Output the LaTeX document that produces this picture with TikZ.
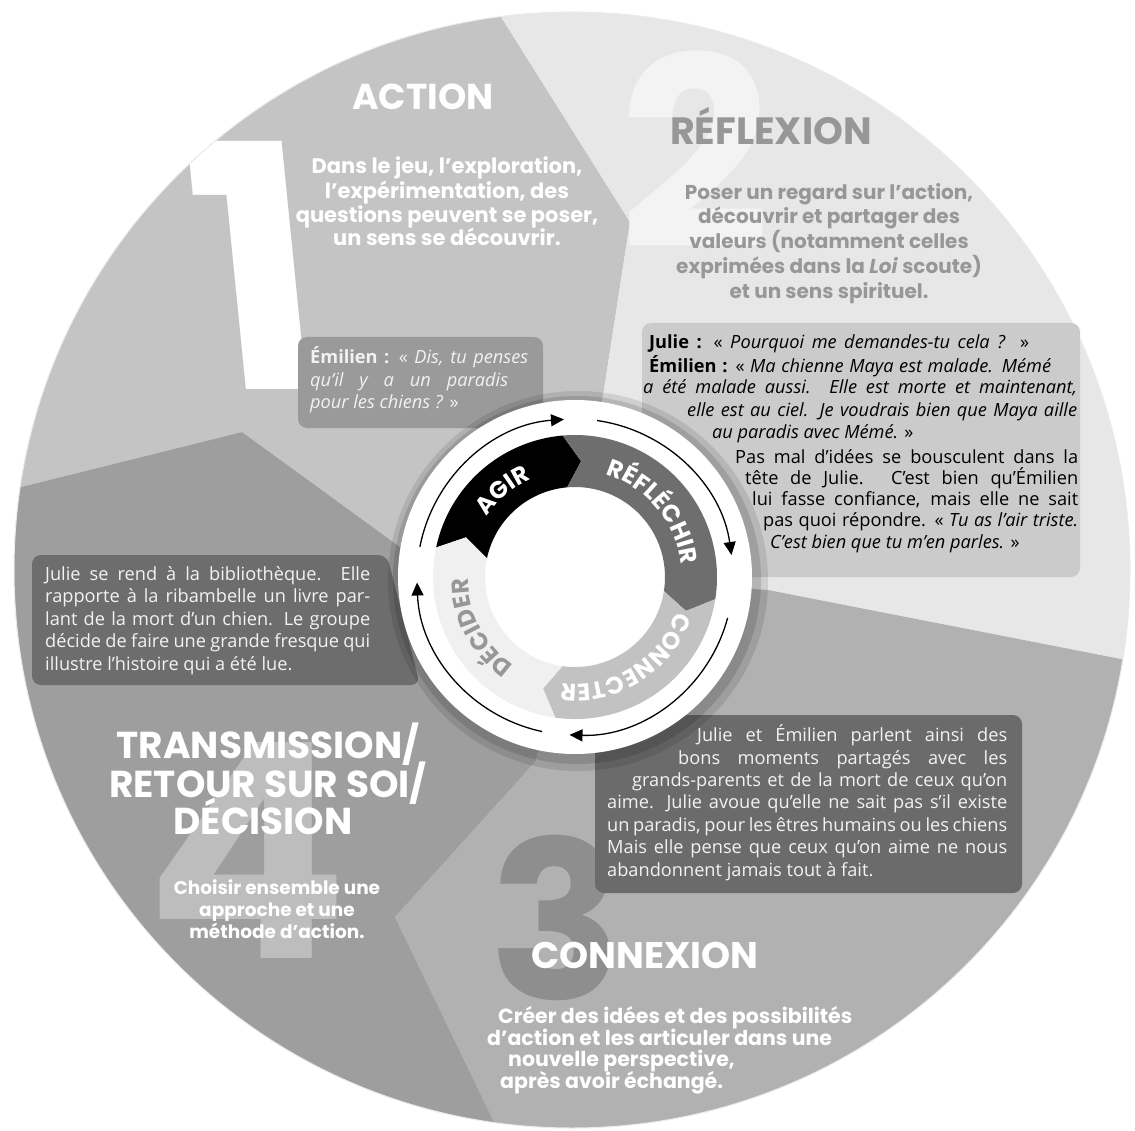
\documentclass[tikz,border=0pt]{standalone}
\usepackage{fontspec}
\usetikzlibrary{arrows.meta,decorations.text,calc}
\newfontfamily\headfont{Poppins}
\newfontfamily\bodyfont{Open Sans}
\definecolor{secA}{HTML}{C4C4C4}
\definecolor{secB}{HTML}{E7E7E7}
\definecolor{secC}{HTML}{B1B1B1}
\definecolor{secD}{HTML}{9E9E9E}
\definecolor{boxA}{HTML}{9A9A9A}
\definecolor{boxB}{HTML}{CBCBCB}
\definecolor{boxD}{HTML}{6D6D6D}
\definecolor{boxC}{HTML}{6B6B6B}
\definecolor{lighttxt}{HTML}{F2F2F2}
\definecolor{reftxt}{HTML}{979797}
\definecolor{bandR}{HTML}{6E6E6E}
\definecolor{bandC}{HTML}{C2C2C2}
\definecolor{bandD}{HTML}{F0F0F0}
\definecolor{numtwo}{HTML}{F3F3F3}
\definecolor{numthree}{HTML}{8E8E8E}
\definecolor{numfour}{HTML}{BDBDBD}
\newcommand{\spreadline}[2]{\makebox[#1pt][s]{#2}}
\begin{document}
\begin{tikzpicture}[x=1pt,y=1pt,
  hd/.style={font=\headfont\bfseries\fontsize{36}{36}\selectfont, text=white, inner sep=0pt, anchor=base},
  dsc/.style={font=\headfont\bfseries\fontsize{#1}{22}\selectfont, text=white, inner sep=0pt, anchor=base},
  dsc/.default=19.5,
  bx/.style={font=\bodyfont\fontsize{18.2}{20}\selectfont, inner sep=0pt, anchor=base west},
  bignum/.style={font=\headfont\bfseries\fontsize{#1}{#1}\selectfont, inner sep=0pt},
  ringarrow/.style={line width=1.3pt, -{Triangle[length=13pt,width=12pt]}},
  bandlabel/.style={decorate, decoration={text along path, text align=center, text={#1}}},
  speech/.style={rounded corners=9pt}
]
\useasboundingbox (0,0) rectangle (1135,-1131);
\fill[white] (0,0) rectangle (1135,-1131);

% ---------- sectors ----------
\begin{scope}
\clip (572,-570) circle (558);
\fill[secA] (575,-577) -- (400,-547) -- (242,-432) -- (17,-488) -- (-100,-517) -- (-100,60) -- (459,50) -- (630,-222) -- cycle;
\fill[secB] (575,-577) -- (630,-222) -- (459,50) -- (1300,60) -- (1300,-694) -- (768,-590) -- cycle;
\fill[secC] (575,-577) -- (768,-590) -- (1300,-694) -- (1300,-1250) -- (556,-1250) -- (395,-917) -- (536,-761) -- cycle;
\fill[secD] (575,-577) -- (536,-761) -- (395,-917) -- (556,-1250) -- (-100,-1250) -- (-100,-517) -- (17,-488) -- (242,-432) -- (400,-547) -- cycle;
% big numbers
\node[bignum=340, text=white, xslant=-0.1] (numA) at (255,-265) {1};
\node[bignum=265, text=numtwo] (numB) at (695,-150) {2};
\node[bignum=220, text=numthree] (numC) at (556,-918) {3};
\node[bignum=300, text=numfour] (numD) at (247,-850) {4};
\end{scope}
\draw[black!8, line width=1pt] (572,-570) circle (558);

% ---------- speech boxes ----------
\fill[boxA, speech] (298,-337) rectangle (543,-428);
\fill[boxB, speech] (642,-323) rectangle (1080,-577);
\fill[boxD, speech] (32,-555) -- (387,-555) -- (420,-685) -- (32,-685) -- cycle;
\fill[boxC, speech] (595,-715) rectangle (1022,-893);

% ---------- central ring ----------
\begin{scope}[shift={(575,-577)}]
\fill[black, opacity=0.10] (3,-4) circle (190);
\fill[black, opacity=0.12] (2,-3) circle (184);
\fill[white] (0,0) circle (177);
\fill[black] (168:142) arc[start angle=168, end angle=95, radius=142] -- (87:116) -- (95:90) arc[start angle=95, end angle=168, radius=90] -- (160:116) -- cycle;
\fill[bandR] (95:142) arc[start angle=95, end angle=-9, radius=142] -- (-17:116) -- (-9:90) arc[start angle=-9, end angle=95, radius=90] -- (87:116) -- cycle;
\fill[bandC] (-9:142) arc[start angle=-9, end angle=-98, radius=142] -- (-106:116) -- (-98:90) arc[start angle=-98, end angle=-9, radius=90] -- (-17:116) -- cycle;
\fill[bandD] (262:142) arc[start angle=262, end angle=168, radius=142] -- (160:116) -- (168:90) arc[start angle=168, end angle=262, radius=90] -- (254:116) -- cycle;
\path[bandlabel={|\headfont\bfseries\fontsize{24}{24}\selectfont\color{white}|AGIR}] (190:107) arc[start angle=190, end angle=70, radius=107];
\path[bandlabel={|\headfont\bfseries\fontsize{24}{24}\selectfont\color{white}|RÉFLÉCHIR}] (110:107) arc[start angle=110, end angle=-30, radius=107];
\path[bandlabel={|\headfont\bfseries\fontsize{24}{24}\selectfont\color{white}|CONNECTER}] (12:107) arc[start angle=12, end angle=-128, radius=107];
\path[bandlabel={|\headfont\bfseries\fontsize{24}{24}\selectfont\color{reftxt}|DÉCIDER}] (278:107) arc[start angle=278, end angle=138, radius=107];
\draw[ringarrow] (169:158) arc[start angle=169, end angle=94, radius=158];
\draw[ringarrow] (82:158) arc[start angle=82, end angle=8, radius=158];
\draw[ringarrow] (-15:158) arc[start angle=-15, end angle=-92, radius=158];
\draw[ringarrow] (-102:158) arc[start angle=-102, end angle=-178, radius=158];
\end{scope}

% ---------- headings ----------
\node[hd] (action) at (423,-110) {ACTION};
\node[dsc=21] (actA) at (447,-174) {Dans le jeu, l’exploration,};
\node[dsc=21] (actB) at (447,-199) {l’expérimentation, des};
\node[dsc=21] (actC) at (447,-223) {questions peuvent se poser,};
\node[dsc=21] (actD) at (447,-246) {un sens se découvrir.};

\node[hd, text=reftxt, font=\headfont\bfseries\fontsize{38}{38}\selectfont] (reflexion) at (771,-145) {RÉFLEXION};
\node[dsc=20, text=reftxt] (refA) at (829,-200) {Poser un regard sur l’action,};
\node[dsc=20, text=reftxt] (refB) at (829,-224) {découvrir et partager des};
\node[dsc=20, text=reftxt] (refC) at (829,-249) {valeurs (notamment celles};
\node[dsc=20, text=reftxt] (refD) at (829,-274) {exprimées dans la \textit{Loi} scoute)};
\node[dsc=20, text=reftxt] (refE) at (829,-299) {et un sens spirituel.};

\node[hd, font=\headfont\bfseries\fontsize{37.5}{37.5}\selectfont] (transA) at (268,-758) {TRANSMISSION/};
\node[hd, font=\headfont\bfseries\fontsize{37.5}{37.5}\selectfont] (transB) at (268,-797) {RETOUR SUR SOI/};
\node[hd, font=\headfont\bfseries\fontsize{37.5}{37.5}\selectfont] (transC) at (263,-834) {DÉCISION};
\node[dsc=18.5] (choA) at (277,-894) {Choisir ensemble une};
\node[dsc=18.5] (choB) at (277,-916) {approche et une};
\node[dsc=18.5] (choC) at (277,-938) {méthode d’action.};

\node[hd, font=\headfont\bfseries\fontsize{37}{37}\selectfont] (connexion) at (645,-968) {CONNEXION};
\node[dsc=20.5, anchor=base west] (conA) at (498,-1023) {Créer des idées et des possibilités};
\node[dsc=20.5, anchor=base west] (conB) at (487,-1045) {d’action et les articuler dans une};
\node[dsc=20.5, anchor=base west] (conC) at (508,-1066) {nouvelle perspective,};
\node[dsc=20.5, anchor=base west] (conD) at (500,-1088) {après avoir échangé.};

% ---------- box texts ----------
\node[bx, text=lighttxt] (emA) at (310,-364) {\spreadline{218}{\textbf{Émilien :} « \textit{Dis, tu penses}}};
\node[bx, text=lighttxt] (emB) at (310,-387) {\spreadline{198}{\textit{qu’il y a un paradis}}};
\node[bx, text=lighttxt] (emC) at (310,-409) {\textit{pour les chiens ?} »};

\node[bx] (juA) at (649,-349) {\spreadline{380}{\textbf{Julie :} « \textit{Pourquoi me demandes-tu cela ?} »}};
\node[bx] (juB) at (649,-373) {\spreadline{402}{\textbf{Émilien :} « \textit{Ma chienne Maya est malade. Mémé}}};
\node[bx] (juC) at (643,-394) {\spreadline{434}{\textit{a été malade aussi. Elle est morte et maintenant,}}};
\node[bx] (juD) at (687,-416) {\spreadline{390}{\textit{elle est au ciel. Je voudrais bien que Maya aille}}};
\node[bx] (juE) at (712,-438) {\textit{au paradis avec Mémé.} »};
\node[bx] (juF) at (735,-463) {\spreadline{343}{Pas mal d’idées se bousculent dans la}};
\node[bx] (juG) at (745,-484) {\spreadline{333}{tête de Julie. C’est bien qu’Émilien}};
\node[bx] (juH) at (752,-505) {\spreadline{326}{lui fasse confiance, mais elle ne sait}};
\node[bx] (juI) at (763,-526) {\spreadline{315}{pas quoi répondre. « \textit{Tu as l’air triste.}}};
\node[bx] (juJ) at (770,-548) {\textit{C’est bien que tu m’en parles.} »};

\node[bx, text=lighttxt] (liA) at (45,-580) {\spreadline{325}{Julie se rend à la bibliothèque. Elle}};
\node[bx, text=lighttxt] (liB) at (45,-602) {\spreadline{325}{rapporte à la ribambelle un livre par-}};
\node[bx, text=lighttxt] (liC) at (45,-625) {\spreadline{325}{lant de la mort d’un chien. Le groupe}};
\node[bx, text=lighttxt] (liD) at (45,-647) {\spreadline{325}{décide de faire une grande fresque qui}};
\node[bx, text=lighttxt] (liE) at (45,-670) {illustre l’histoire qui a été lue.};

\node[bx, text=lighttxt] (boA) at (697,-741) {\spreadline{310}{Julie et Émilien parlent ainsi des}};
\node[bx, text=lighttxt] (boB) at (678,-764) {\spreadline{329}{bons moments partagés avec les}};
\node[bx, text=lighttxt] (boC) at (632,-786) {\spreadline{375}{grands-parents et de la mort de ceux qu’on}};
\node[bx, text=lighttxt] (boD) at (607,-808) {\spreadline{400}{aime. Julie avoue qu’elle ne sait pas s’il existe}};
\node[bx, text=lighttxt] (boE) at (607,-831) {\spreadline{400}{un paradis, pour les êtres humains ou les chiens}};
\node[bx, text=lighttxt] (boF) at (607,-853) {\spreadline{400}{Mais elle pense que ceux qu’on aime ne nous}};
\node[bx, text=lighttxt] (boG) at (607,-876) {abandonnent jamais tout à fait.};
\end{tikzpicture}
\end{document}
